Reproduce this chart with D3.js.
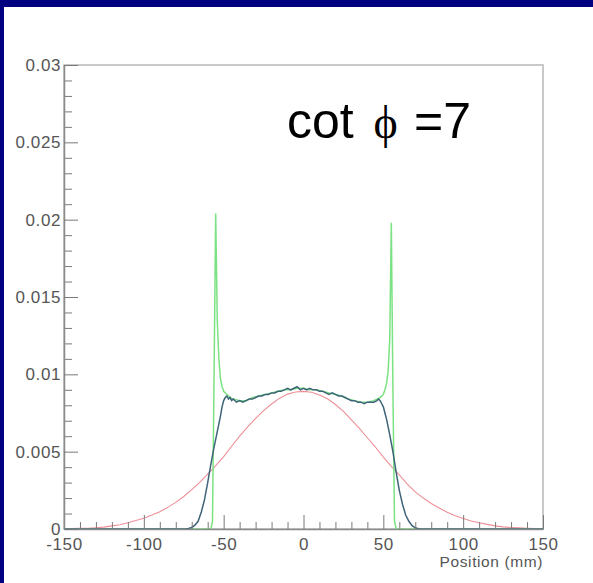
<!DOCTYPE html>
<html>
<head>
<meta charset="utf-8">
<script src="https://cdn.jsdelivr.net/npm/d3@7"></script>
<style>
html,body{margin:0;padding:0;background:#000080;}
svg{display:block;}
</style>
</head>
<body>
<svg id="chart" width="593" height="583"></svg>
<script>
// ---- data ----
const xTicks = [-150, -100, -50, 0, 50, 100, 150];
const xTickLabels = ["-150", "-100", "-50", "0", "50", "100", "150"];
const xMinorTicks = [-140,-130,-120,-110,-90,-80,-70,-60,-40,-30,-20,-10,10,20,30,40,60,70,80,90,110,120,130,140];
const yTicks = [0, 0.005, 0.01, 0.015, 0.02, 0.025, 0.03];
const yTickLabels = ["0", "0.005", "0.01", "0.015", "0.02", "0.025", "0.03"];
const yMinorTicks = [0.001,0.002,0.003,0.004,0.006,0.007,0.008,0.009,0.011,0.012,0.013,0.014,0.016,0.017,0.018,0.019,0.021,0.022,0.023,0.024,0.026,0.027,0.028,0.029];
const xTitle = "Position (mm)";

const redX = [-150,-145,-140,-135,-130,-125,-120,-115,-110,-105,-100,-95,-90,-85,-80,-75,-70,-65,-60,-55,-50,-45,-40,-35,-30,-25,-20,-15,-10,-5,0,5,10,15,20,25,30,35,40,45,50,55,60,65,70,75,80,85,90,95,100,105,110,115,120,125,130,135,140,145,150];
const redY = [0.00002,0.00003,0.00004,0.00005,0.00008,0.00012,0.00020,0.00028,0.00040,0.00055,0.00070,0.00090,0.00112,0.00140,0.00172,0.00210,0.00255,0.00302,0.00355,0.00410,0.00468,0.00535,0.00600,0.00660,0.00715,0.00765,0.00808,0.00846,0.00872,0.00886,0.00890,0.00884,0.00866,0.00842,0.00805,0.00760,0.00705,0.00650,0.00590,0.00530,0.00465,0.00405,0.00350,0.00290,0.00240,0.00200,0.00165,0.00136,0.00108,0.00086,0.00068,0.00052,0.00040,0.00030,0.00020,0.00014,0.00010,0.00007,0.00005,0.00003,0.00002];

const blueX = [-150,-74,-72,-70,-68,-66,-64,-62,-60,-58,-56,-54,-52,-51,-50,-49,-48,-47,-46,-45,-44,-42,-40,-38,-36,-34,-32,-30,-28,-26,-24,-22,-20,-18,-16,-14,-12,-10,-8,-6,-4,-2,0,2,4,6,8,10,12,14,16,18,20,22,24,26,28,30,32,34,36,38,40,42,44,46,47,48,49,50,51,52,54,56,58,60,62,64,66,68,70,72,74,150];
const blueY = [0,0,0.00003,0.0001,0.00025,0.0005,0.0011,0.0019,0.0030,0.0042,0.0053,0.0063,0.0073,0.0079,0.0083,0.0085,0.0086,0.0084,0.0085,0.0083,0.0084,0.0082,0.0083,0.0082,0.0083,0.0084,0.0084,0.0085,0.0086,0.0086,0.0087,0.0087,0.0088,0.0088,0.0089,0.0089,0.0090,0.0091,0.0090,0.0091,0.0092,0.0090,0.0091,0.0090,0.0091,0.0090,0.0090,0.0089,0.0089,0.0088,0.0087,0.0088,0.0087,0.0086,0.0086,0.0085,0.0084,0.0083,0.0083,0.0082,0.0082,0.0081,0.0082,0.0082,0.0082,0.0083,0.0084,0.0083,0.0081,0.0079,0.0075,0.0071,0.0061,0.0050,0.0037,0.0025,0.0016,0.0009,0.0005,0.00022,0.00008,0.00002,0,0];

const greenX = [-150,-58,-57,-56,-55,-54,-53,-52,-51,-50,-48,-46,-44,-40,-36,-32,-28,-24,-20,-16,-12,-8,-4,0,4,8,12,16,20,24,28,32,36,40,44,46,48,50,51,52,53,54,55,56,57,58,150];
const greenY = [0,0,0.0005,0.0100,0.0204,0.0135,0.0110,0.0097,0.0092,0.0089,0.0087,0.0085,0.0084,0.0083,0.0083,0.0085,0.0086,0.0087,0.0088,0.0089,0.0090,0.0090,0.0091,0.0091,0.0090,0.0090,0.0089,0.0088,0.0087,0.0086,0.0084,0.0083,0.0082,0.0082,0.0083,0.0084,0.0085,0.0087,0.0090,0.0094,0.0102,0.0122,0.0198,0.0090,0.0005,0,0];

// ---- drawing ----
const svg = d3.select("#chart");
svg.append("rect").attr("x", 4).attr("y", 7).attr("width", 589).attr("height", 576).attr("fill", "#ffffff");

const x = d3.scaleLinear().domain([-150, 150]).range([64, 543]);
const y = d3.scaleLinear().domain([0, 0.03]).range([529, 65]);

// frame
svg.append("rect").attr("x", 64).attr("y", 65).attr("width", 479).attr("height", 464)
  .attr("fill", "none").attr("stroke", "#bcbcbc").attr("stroke-width", 1.6);

const line = d3.line().x(d => x(d[0])).y(d => y(d[1]));
const plot = svg.append("g");
plot.append("path").datum(redX.map((v, i) => [v, redY[i]]))
  .attr("d", line).attr("fill", "none").attr("stroke", "#ee8f98").attr("stroke-width", 1.1);
plot.append("path").datum(greenX.map((v, i) => [v, greenY[i]]))
  .attr("d", line).attr("fill", "none").attr("stroke", "#7be283").attr("stroke-width", 1.5);
plot.append("path").datum(blueX.map((v, i) => [v, blueY[i]]))
  .attr("d", line).attr("fill", "none").attr("stroke", "#3f6479").attr("stroke-width", 1.5);

const tickColor = "#7a7a7a";
const labelFont = "'Liberation Sans', Arial, sans-serif";

// x axis minor
const gxm = svg.append("g").attr("transform", "translate(0,529)")
  .call(d3.axisBottom(x).tickValues(xMinorTicks).tickSize(-7).tickFormat(""));
gxm.select(".domain").remove();
gxm.selectAll("line").attr("stroke", tickColor);
// x axis major
const gx = svg.append("g").attr("transform", "translate(0,529)")
  .call(d3.axisBottom(x).tickValues(xTicks).tickSizeInner(-14).tickSizeOuter(0).tickPadding(9)
    .tickFormat((d, i) => xTickLabels[i]));
gx.select(".domain").attr("stroke", "#8a8a8a").attr("stroke-width", 1.5);
gx.selectAll("line").attr("stroke", tickColor);
gx.selectAll("text").attr("fill", "#555").attr("font-size", 17).attr("font-family", labelFont).attr("letter-spacing", "0.6px");

// y axis minor
const gym = svg.append("g").attr("transform", "translate(64,0)")
  .call(d3.axisLeft(y).tickValues(yMinorTicks).tickSize(-8).tickFormat(""));
gym.select(".domain").remove();
gym.selectAll("line").attr("stroke", tickColor);
// y axis major
const gy = svg.append("g").attr("transform", "translate(64,0)")
  .call(d3.axisLeft(y).tickValues(yTicks).tickSizeInner(-14).tickSizeOuter(0).tickPadding(3)
    .tickFormat((d, i) => yTickLabels[i]));
gy.select(".domain").attr("stroke", "#8a8a8a").attr("stroke-width", 1.5);
gy.selectAll("line").attr("stroke", tickColor);
gy.selectAll("text").attr("fill", "#555").attr("font-size", 17).attr("font-family", labelFont).attr("letter-spacing", "0.6px");

// axis title
svg.append("text").attr("x", 543).attr("y", 567).attr("text-anchor", "end")
  .attr("font-family", labelFont).attr("font-size", 15.5).attr("letter-spacing", "0.6px").attr("fill", "#555")
  .text(xTitle);

// annotation
const ann = svg.append("g").attr("fill", "#000");
ann.append("text").attr("x", 287).attr("y", 138).attr("font-family", "'Liberation Sans', Arial, sans-serif")
  .attr("font-size", 50).text("cot");
ann.append("text").attr("x", 385.5).attr("y", 138).attr("text-anchor", "middle")
  .attr("font-family", "'Liberation Serif', 'DejaVu Serif', serif").attr("font-size", 46).text("\u03D5");
ann.append("text").attr("x", 414).attr("y", 138).attr("font-family", "'Liberation Sans', Arial, sans-serif")
  .attr("font-size", 50).text("=7");
</script>
</body>
</html>
